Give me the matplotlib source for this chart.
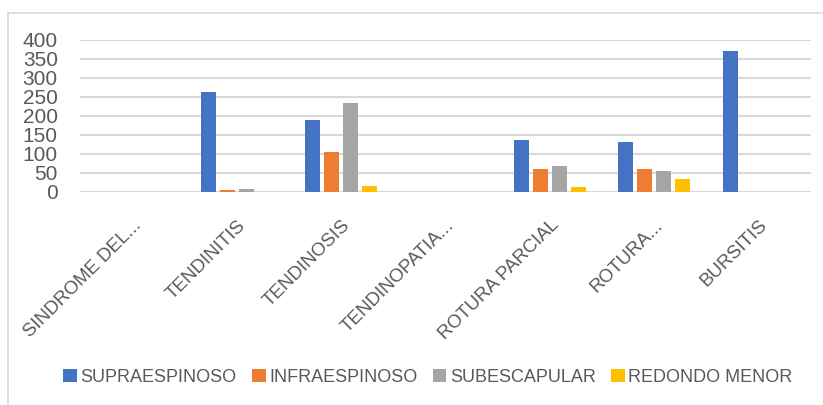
import numpy as np
import matplotlib.pyplot as plt
from matplotlib.lines import Line2D

plt.rcParams['font.family'] = ['Liberation Sans', 'DejaVu Sans']

# datos
categorias = ["SINDROME DEL...", "TENDINITIS", "TENDINOSIS", "TENDINOPATIA...",
              "ROTURA PARCIAL", "ROTURA...", "BURSITIS"]
supraespinoso = [0, 263, 190, 0, 135, 130, 369]
infraespinoso = [0, 4, 104, 0, 60, 60, 0]
subescapular = [0, 8, 233, 0, 68, 54, 0]
redondo_menor = [0, 0, 15, 0, 13, 33, 0]

series = ["SUPRAESPINOSO", "INFRAESPINOSO", "SUBESCAPULAR", "REDONDO MENOR"]
colores = ["#4472C4", "#ED7D31", "#A5A5A5", "#FFC000"]
gris = "#595959"

fig = plt.figure(figsize=(8.23, 4.05), dpi=100)
ax = fig.add_axes([80/823, 1 - 191.7/405, (811-80)/823, 152/405])

x = np.arange(len(categorias))
ancho = 0.145
paso = 0.182
for i, (vals, nombre, c) in enumerate(zip([supraespinoso, infraespinoso, subescapular, redondo_menor], series, colores)):
    ax.bar(x + (i - 1.5)*paso, vals, ancho, color=c, label=nombre, zorder=3)

ax.set_xlim(-0.5, len(categorias) - 0.5)
ax.set_ylim(0, 400)
ax.set_yticks(range(0, 401, 50))
ax.yaxis.grid(True, color="#d9d9d9", linewidth=1.5, zorder=0)
ax.set_axisbelow(True)
for s in ax.spines.values():
    s.set_visible(False)
ax.tick_params(axis='both', length=0, colors=gris)
ax.tick_params(axis='y', pad=16, labelsize=15)
ax.set_xticks(x)
ax.set_xticklabels(categorias, rotation=45, ha='right', va='top',
                   rotation_mode='anchor', fontsize=13.5)
ax.tick_params(axis='x', pad=18)

fig.legend(loc='center', bbox_to_anchor=(428/823, 1 - 377/405), ncol=4,
           frameon=False, fontsize=13, labelcolor=gris, handlelength=0.75,
           handleheight=0.75, handletextpad=0.2, columnspacing=0.85)

# marco del grafico
fig.add_artist(Line2D([8/823, 1], [1 - 12.5/405]*2, color="#d9d9d9", lw=1.2, transform=fig.transFigure))
fig.add_artist(Line2D([8/823]*2, [0, 1 - 12.5/405], color="#d9d9d9", lw=1.2, transform=fig.transFigure))

fig.savefig("out.png", dpi=100)
